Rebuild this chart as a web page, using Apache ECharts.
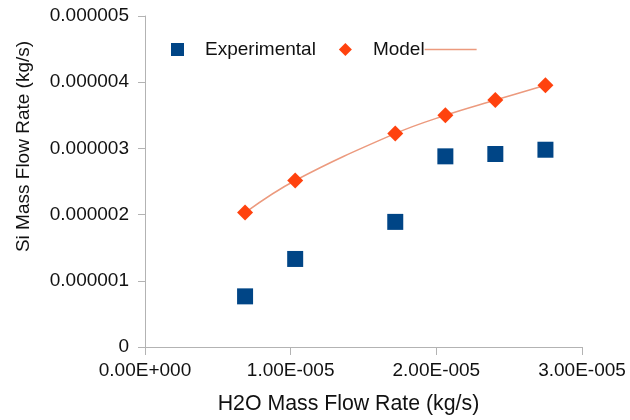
<!DOCTYPE html>
<html>
<head>
<meta charset="utf-8">
<title>Si vs H2O Mass Flow Rate</title>
<script src="https://cdn.jsdelivr.net/npm/echarts@6/dist/echarts.min.js"></script>
<style>
  html, body { margin: 0; padding: 0; background: #fff; }
  #chart { width: 630px; height: 420px; }
</style>
</head>
<body>
<div id="chart"></div>
<script>
// H2O mass flow rate (kg/s) for each run
const h2oFlow = [0.687e-5, 1.031e-5, 1.718e-5, 2.062e-5, 2.405e-5, 2.749e-5];
// Measured Si mass flow rate (kg/s)
const siExperimental = [0.765e-6, 1.33e-6, 1.89e-6, 2.88e-6, 2.915e-6, 2.98e-6];
// Predicted Si mass flow rate (kg/s)
const siModel = [2.03e-6, 2.515e-6, 3.225e-6, 3.50e-6, 3.73e-6, 3.955e-6];
// Axis ticks
const xTicks = [0, 1e-5, 2e-5, 3e-5];
const yTicks = [0, 1e-6, 2e-6, 3e-6, 4e-6, 5e-6];

const FONT = '"Liberation Sans", Arial, sans-serif';
const AXIS_GREY = '#b3b3b3';
const TEXT = '#111';
const MODEL_LINE = '#ec9a7e';

function sci(v) {
  if (v === 0) return '0.00E+000';
  const e = Math.floor(Math.log10(Math.abs(v)) + 1e-9);
  const m = v / Math.pow(10, e);
  const sign = e < 0 ? '-' : '+';
  return m.toFixed(2) + 'E' + sign + String(Math.abs(e)).padStart(3, '0');
}

function pairs(xs, ys) {
  return xs.map((x, i) => [x, ys[i]]);
}

const chart = echarts.init(document.getElementById('chart'), null, { renderer: 'canvas' });

chart.setOption({
  animation: false,
  backgroundColor: '#ffffff',
  textStyle: { fontFamily: FONT },
  grid: { left: 145, right: 48, top: 16, bottom: 71, containLabel: false },
  legend: {
    left: 166,
    top: 35,
    itemWidth: 13,
    itemHeight: 13,
    itemGap: 23,
    data: [
      { name: 'Experimental', icon: 'rect' },
      { name: 'Model', icon: 'diamond' }
    ],
    formatter: name => name === 'Model' ? '{t|Model}{ln| }' : '{t|' + name + '}',
    textStyle: {
      fontFamily: FONT,
      fontSize: 19,
      color: TEXT,
      padding: [0, 0, 0, 16],
      rich: {
        t: { fontFamily: FONT, fontSize: 19, color: TEXT },
        ln: { width: 52, height: 1.5, backgroundColor: MODEL_LINE }
      }
    }
  },
  xAxis: {
    type: 'value',
    min: xTicks[0],
    max: xTicks[xTicks.length - 1],
    interval: xTicks[1] - xTicks[0],
    name: 'H2O Mass Flow Rate (kg/s)',
    nameLocation: 'middle',
    nameGap: 47,
    nameTextStyle: { fontFamily: FONT, fontSize: 21.3, color: TEXT, padding: [0, 30, 0, 0] },
    axisLine: { show: true, lineStyle: { color: AXIS_GREY, width: 1 } },
    axisTick: { show: true, length: 8, inside: false, lineStyle: { color: AXIS_GREY } },
    splitLine: { show: false },
    axisLabel: {
      margin: 14,
      fontFamily: FONT,
      fontSize: 19,
      color: TEXT,
      formatter: sci
    }
  },
  yAxis: {
    type: 'value',
    min: yTicks[0],
    max: yTicks[yTicks.length - 1],
    interval: yTicks[1] - yTicks[0],
    name: 'Si Mass Flow Rate (kg/s)',
    nameLocation: 'middle',
    nameGap: 112,
    nameTextStyle: { fontFamily: FONT, fontSize: 19, color: TEXT, padding: [0, 0, 0, 70] },
    axisLine: { show: true, lineStyle: { color: AXIS_GREY, width: 1 } },
    axisTick: { show: true, length: 7, inside: false, lineStyle: { color: AXIS_GREY } },
    splitLine: { show: false },
    axisLabel: {
      margin: 16,
      fontFamily: FONT,
      fontSize: 19,
      color: TEXT,
      formatter: v => v === 0 ? '0' : v.toFixed(6)
    }
  },
  series: [
    {
      name: 'Experimental',
      type: 'scatter',
      symbol: 'rect',
      symbolSize: 16,
      itemStyle: { color: '#004586', opacity: 1 },
      data: pairs(h2oFlow, siExperimental)
    },
    {
      name: 'Model',
      type: 'line',
      smooth: 0.4,
      symbol: 'diamond',
      symbolSize: 16,
      showAllSymbol: true,
      itemStyle: { color: '#ff420e', opacity: 1 },
      lineStyle: { color: MODEL_LINE, width: 1.5 },
      data: pairs(h2oFlow, siModel)
    }
  ]
});
</script>
</body>
</html>
